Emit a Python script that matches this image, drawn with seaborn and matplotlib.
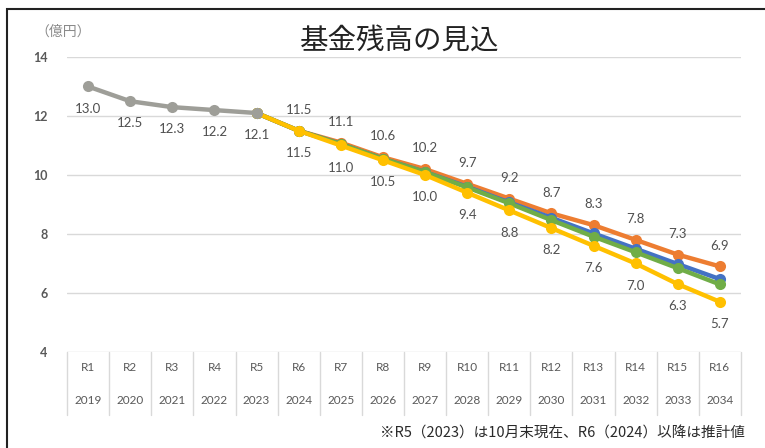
import pandas as pd
import seaborn as sns
import matplotlib.pyplot as plt
from matplotlib.patches import Rectangle

# chart data
reiwa = ["R1", "R2", "R3", "R4", "R5", "R6", "R7", "R8",
         "R9", "R10", "R11", "R12", "R13", "R14", "R15", "R16"]
years = [2019, 2020, 2021, 2022, 2023, 2024, 2025, 2026,
         2027, 2028, 2029, 2030, 2031, 2032, 2033, 2034]
actual_years = [2019, 2020, 2021, 2022, 2023]
actual = [13.0, 12.5, 12.3, 12.2, 12.1]
proj_years = [2023, 2024, 2025, 2026, 2027, 2028, 2029, 2030, 2031, 2032, 2033, 2034]
proj_high = [12.1, 11.5, 11.1, 10.6, 10.2, 9.7, 9.2, 8.7, 8.3, 7.8, 7.3, 6.9]
proj_mid1 = [12.1, 11.5, 11.05, 10.55, 10.1, 9.6, 9.07, 8.55, 8.02, 7.5, 6.98, 6.47]
proj_mid2 = [12.1, 11.5, 11.05, 10.55, 10.1, 9.58, 9.04, 8.47, 7.91, 7.38, 6.84, 6.29]
proj_low = [12.1, 11.5, 11.0, 10.5, 10.0, 9.4, 8.8, 8.2, 7.6, 7.0, 6.3, 5.7]

colors = {"high": "#ED7D31", "mid1": "#4472C4", "mid2": "#70AD47",
          "low": "#FFC000", "actual": "#9E9E98"}

rows = []
for name, ys, vals in [("high", proj_years, proj_high), ("mid1", proj_years, proj_mid1),
                       ("mid2", proj_years, proj_mid2), ("low", proj_years, proj_low),
                       ("actual", actual_years, actual)]:
    for y, v in zip(ys, vals):
        rows.append({"series": name, "pos": years.index(y), "value": v})
df = pd.DataFrame(rows)

sns.set_style("white")
plt.rcParams['font.family'] = ['Lato', 'Noto Sans CJK JP', 'DejaVu Sans']

fig = plt.figure(figsize=(7.65, 4.48), dpi=100)
ax = fig.add_axes([0.0876, 0.2143, 0.881, 0.6585])

sns.lineplot(data=df, x="pos", y="value", hue="series",
             hue_order=["high", "mid1", "mid2", "low", "actual"],
             palette=colors, marker="o", markersize=8, markeredgewidth=0,
             linewidth=3.2, legend=False, ax=ax)

ax.set_xlim(-0.5, len(years) - 0.5)
ax.set_ylim(4, 14)
ax.set_yticks([4, 6, 8, 10, 12, 14])
ax.yaxis.grid(True, color="#d9d9d9", linewidth=1)
ax.set_axisbelow(True)
for s in ax.spines.values():
    s.set_visible(False)
ax.tick_params(axis="y", length=0, pad=14, labelsize=9, labelcolor="#595959")
for t in ax.get_yticklabels():
    t.set_fontweight("bold")
ax.set_xticks([])
ax.set_xlabel("")
ax.set_ylabel("")

# data labels
lab = dict(ha="center", va="center", fontsize=9.5, color="#505050", textcoords="offset points")
for y, v in zip(actual_years, actual):
    ax.annotate(f"{v:.1f}", (years.index(y), v), xytext=(0, -16), **lab)
for y, v in zip(proj_years[1:], proj_high[1:]):
    ax.annotate(f"{v:.1f}", (years.index(y), v), xytext=(0, 15), **lab)
for y, v in zip(proj_years[1:], proj_low[1:]):
    ax.annotate(f"{v:.1f}", (years.index(y), v), xytext=(0, -16), **lab)

# category table below the plot
tr = ax.get_xaxis_transform()
for i, (r, y) in enumerate(zip(reiwa, years)):
    ax.text(i, -0.054, r, transform=tr, ha="center", va="center", fontsize=8.5, color="#595959")
    ax.text(i, -0.166, str(y), transform=tr, ha="center", va="center", fontsize=8.5, color="#595959")
for i in range(len(years) + 1):
    ax.plot([i - 0.5, i - 0.5], [0, -0.214], transform=tr, color="#d9d9d9",
            linewidth=1, clip_on=False)

fig.text(0.523, 0.91, "基金残高の見込", ha="center", va="center", fontsize=20.5,
         color="#222222", family=["Noto Sans CJK JP"])
fig.text(0.046, 0.93, "（億円）", ha="left", va="center", fontsize=10,
         color="#8a8a8a", family=["Noto Sans CJK JP"])
fig.text(0.974, 0.033, "※R5（2023）は10月末現在、R6（2024）以降は推計値", ha="right",
         va="center", fontsize=10.5, color="#2a2a2a",
         family=["Noto Sans CJK JP"])

fig.add_artist(Rectangle((0.009, -0.1), 1.2, 1.08, transform=fig.transFigure,
                         fill=False, edgecolor="#222222", linewidth=1.5))

fig.savefig("out.png", dpi=100)
